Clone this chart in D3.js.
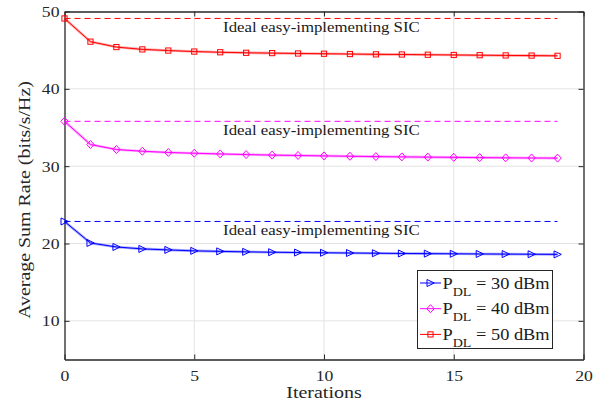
<!DOCTYPE html>
<html>
<head>
<meta charset="utf-8">
<script src="https://cdn.jsdelivr.net/npm/d3@7"></script>
<style>
  html, body { margin: 0; padding: 0; background: #fff; }
  svg { display: block; }
  text { font-family: "Liberation Serif", "Times New Roman", serif; }
</style>
</head>
<body>
<svg id="chart" width="604" height="404"></svg>
<script>
// Iteration index and average sum rate (bits/s/Hz) per downlink power level
const iterations = [0, 1, 2, 3, 4, 5, 6, 7, 8, 9, 10, 11, 12, 13, 14, 15, 16, 17, 18, 19];
const rate30 = [22.85, 20.07, 19.55, 19.30, 19.17, 19.05, 18.98, 18.92, 18.87, 18.83, 18.80, 18.77, 18.74, 18.71, 18.69, 18.67, 18.65, 18.63, 18.61, 18.59];
const rate40 = [35.80, 32.80, 32.15, 31.93, 31.77, 31.67, 31.58, 31.50, 31.43, 31.38, 31.33, 31.28, 31.24, 31.20, 31.17, 31.14, 31.11, 31.08, 31.06, 31.04];
const rate50 = [49.10, 46.10, 45.40, 45.10, 44.95, 44.82, 44.73, 44.66, 44.62, 44.57, 44.54, 44.50, 44.46, 44.44, 44.41, 44.38, 44.35, 44.32, 44.30, 44.27];
// Ideal easy-implementing SIC bound for each power level
const idealRate = [22.85, 35.80, 49.10];
const idealSpan = [0, 19];
const idealLabel = "Ideal easy-implementing SIC";
const idealLabelX = 9.9;
const seriesNames = ["30 dBm", "40 dBm", "50 dBm"];
const xTicks = [0, 5, 10, 15, 20];
const yTicks = [10, 20, 30, 40, 50];
const xTitle = "Iterations";
const yTitle = "Average Sum Rate (bits/s/Hz)";

const colors = ["#0000ff", "#ff00ff", "#ff0000"];
const markers = ["triangle", "diamond", "square"];
const seriesData = [rate30, rate40, rate50];

const svg = d3.select("#chart");
const margin = { left: 64.5, top: 11.5, right: 20.5, bottom: 44.5 };
const W = 604, H = 404;
const x = d3.scaleLinear().domain([0, 20]).range([margin.left, W - margin.right]);
const y = d3.scaleLinear().domain([5, 50]).range([H - margin.bottom, margin.top]);

const axisColor = "#262626";
const gridColor = "#e3e3e3";

// grid
const grid = svg.append("g");
grid.selectAll("line.gx").data(xTicks.slice(1, -1)).join("line")
  .attr("x1", d => x(d)).attr("x2", d => x(d))
  .attr("y1", y.range()[0]).attr("y2", y.range()[1])
  .attr("stroke", gridColor).attr("stroke-width", 1);
grid.selectAll("line.gy").data(yTicks.slice(0, -1)).join("line")
  .attr("y1", d => y(d)).attr("y2", d => y(d))
  .attr("x1", x.range()[0]).attr("x2", x.range()[1])
  .attr("stroke", gridColor).attr("stroke-width", 1);

// axes (ticks point inward)
function styleAxis(g, hideText) {
  g.select(".domain").attr("stroke", axisColor).attr("stroke-width", 1.3);
  g.selectAll(".tick line").attr("stroke", axisColor).attr("stroke-width", 1);
  if (hideText) g.selectAll(".tick text").remove();
}

const gxb = svg.append("g").attr("transform", `translate(0,${y.range()[0]})`)
  .call(d3.axisBottom(x).tickValues(xTicks).tickSize(-5).tickSizeOuter(0).tickPadding(0));
styleAxis(gxb, false);
gxb.selectAll(".tick text")
  .attr("fill", axisColor).attr("font-size", 14.5).attr("font-family", "Liberation Serif")
  .attr("y", 0).attr("dy", 0)
  .attr("transform", "translate(0,21) scale(1.22,1)");

const gxt = svg.append("g").attr("transform", `translate(0,${y.range()[1]})`)
  .call(d3.axisTop(x).tickValues(xTicks).tickSize(-5).tickSizeOuter(0));
styleAxis(gxt, true);

const gyl = svg.append("g").attr("transform", `translate(${x.range()[0]},0)`)
  .call(d3.axisLeft(y).tickValues(yTicks).tickSize(-5).tickSizeOuter(0));
styleAxis(gyl, false);
gyl.selectAll(".tick text")
  .attr("fill", axisColor).attr("font-size", 14.5).attr("font-family", "Liberation Serif")
  .attr("x", 0).attr("dy", "0.34em").attr("text-anchor", "end")
  .attr("transform", "translate(-5,0) scale(1.22,1)");

const gyr = svg.append("g").attr("transform", `translate(${x.range()[1]},0)`)
  .call(d3.axisRight(y).tickValues(yTicks).tickSize(-5).tickSizeOuter(0));
styleAxis(gyr, true);

// axis titles
svg.append("text")
  .attr("transform", `translate(${(x.range()[0] + x.range()[1]) / 2},398) scale(1.25,1)`)
  .attr("text-anchor", "middle").attr("font-size", 16).attr("fill", axisColor)
  .text(xTitle);
svg.append("text")
  .attr("transform", `translate(30,200) rotate(-90) scale(1.17,1)`)
  .attr("text-anchor", "middle").attr("font-size", 17).attr("fill", axisColor)
  .text(yTitle);

// ideal bounds
const plot = svg.append("g");
idealRate.forEach((v, i) => {
  plot.append("line")
    .attr("x1", x(idealSpan[0])).attr("x2", x(idealSpan[1]))
    .attr("y1", y(v)).attr("y2", y(v))
    .attr("stroke", colors[i]).attr("stroke-width", 1)
    .attr("stroke-dasharray", "6,4");
  plot.append("text")
    .attr("transform", `translate(${x(idealLabelX)},${y(v) + 14}) scale(1.12,1)`)
    .attr("text-anchor", "middle").attr("font-size", 15).attr("fill", "#1a1a1a")
    .text(idealLabel);
});

// marker shapes
function drawMarker(g, type, cx, cy, color) {
  if (type === "triangle") {
    g.append("path")
      .attr("d", `M${cx - 3.5},${cy - 3.5}L${cx + 3.8},${cy}L${cx - 3.5},${cy + 3.5}Z`)
      .attr("fill", "none").attr("stroke", color).attr("stroke-width", 1);
  } else if (type === "diamond") {
    g.append("path")
      .attr("d", `M${cx},${cy - 4}L${cx + 3.7},${cy}L${cx},${cy + 4}L${cx - 3.7},${cy}Z`)
      .attr("fill", "none").attr("stroke", color).attr("stroke-width", 1);
  } else {
    g.append("rect")
      .attr("x", cx - 2.6).attr("y", cy - 2.6).attr("width", 5.2).attr("height", 5.2)
      .attr("fill", "none").attr("stroke", color).attr("stroke-width", 1);
  }
}

const line = d3.line().x((d, i) => x(iterations[i])).y(d => y(d));
seriesData.forEach((vals, s) => {
  plot.append("path").datum(vals)
    .attr("d", line).attr("fill", "none")
    .attr("stroke", colors[s]).attr("stroke-opacity", 0.35).attr("stroke-width", 2.6);
  plot.append("path").datum(vals)
    .attr("d", line).attr("fill", "none")
    .attr("stroke", colors[s]).attr("stroke-width", 1);
  const mg = plot.append("g");
  vals.forEach((v, i) => drawMarker(mg, markers[s], x(iterations[i]), y(v), colors[s]));
});

// legend
const lg = svg.append("g");
lg.append("rect")
  .attr("x", 417.5).attr("y", 270.5).attr("width", 135).attr("height", 78)
  .attr("fill", "#fff").attr("stroke", "#262626").attr("stroke-width", 1);
seriesNames.forEach((name, i) => {
  const cy = 283 + i * 25.7;
  lg.append("line").attr("x1", 420).attr("x2", 441).attr("y1", cy).attr("y2", cy)
    .attr("stroke", colors[i]).attr("stroke-width", 1);
  drawMarker(lg, markers[i], 430.5, cy, colors[i]);
  const t = lg.append("text")
    .attr("transform", `translate(442.5,${cy + 5.5}) scale(1.08,1)`)
    .attr("font-size", 17).attr("fill", "#1a1a1a");
  t.append("tspan").text("P");
  t.append("tspan").attr("font-size", 13).attr("dy", 7).text("DL");
  t.append("tspan").attr("dy", -7).text(" = " + name);
});
</script>
</body>
</html>
